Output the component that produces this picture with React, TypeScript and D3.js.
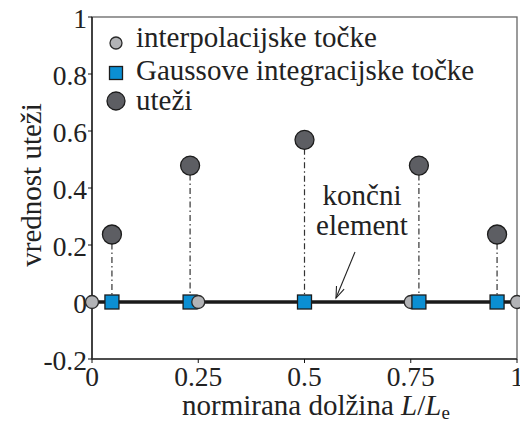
import React from "react";
import * as d3 from "d3";

const xTicks = [0, 0.25, 0.5, 0.75, 1];
const xTickLabels = ["0", "0.25", "0.5", "0.75", "1"];
const yTicks = [-0.2, 0, 0.2, 0.4, 0.6, 0.8, 1];
const yTickLabels = ["-0.2", "0", "0.2", "0.4", "0.6", "0.8", "1"];
const interpPoints = [0, 0.25, 0.75, 1];
const gaussPoints = [0.0469, 0.2308, 0.5, 0.7692, 0.9531];
const weights = [0.2369, 0.4786, 0.5689, 0.4786, 0.2369];
const legendLabels = ["interpolacijske točke", "Gaussove integracijske točke", "uteži"];

const W = 520, H = 425;
const FONT = '"Liberation Serif"';

function T(props: any) {
  const { children, size, ...rest } = props;
  return (
    <text {...rest} fill="#222" fontSize={size || 29} fontFamily={FONT} style={{ fontFamily: FONT }}>
      {children}
    </text>
  );
}

export default function App() {
  const x = d3.scaleLinear().domain([0, 1]).range([92, 517]);
  const y = d3.scaleLinear().domain([-0.2, 1]).range([359, 17]);
  const y0 = y(0);
  const sq = 14;
  const tfs = 27.5;
  const arrowStart = { x: 355, y: 252 };
  const arrowEnd = { x: 336, y: 298 };
  const ang = Math.atan2(arrowEnd.y - arrowStart.y, arrowEnd.x - arrowStart.x);
  const ah = 12, aw = 0.35;
  const head = d3.line()([
    [arrowEnd.x - ah * Math.cos(ang - aw), arrowEnd.y - ah * Math.sin(ang - aw)],
    [arrowEnd.x, arrowEnd.y],
    [arrowEnd.x - ah * Math.cos(ang + aw), arrowEnd.y - ah * Math.sin(ang + aw)],
  ]);
  return (
    <svg width={W} height={H} style={{ position: "absolute", left: 0, top: 0, background: "#fff" }}>
      <rect x={x(0)} y={y(1)} width={x(1) - x(0)} height={y(-0.2) - y(1)} fill="none" stroke="#666" strokeWidth={1.3} />
      <line x1={x(0)} x2={x(0)} y1={y(1)} y2={y(-0.2)} stroke="#111" strokeWidth={1.3} />
      <line x1={x(0)} x2={x(1)} y1={y(-0.2)} y2={y(-0.2)} stroke="#333" strokeWidth={1.3} />
      {yTicks.map((t, i) => (
        <g key={"yt" + i}>
          <line x1={x(0) - 4} x2={x(0)} y1={y(t)} y2={y(t)} stroke="#111" strokeWidth={1} />
          <T x={x(0) - 5} y={y(t) + 11} textAnchor="end" size={tfs}>{yTickLabels[i]}</T>
        </g>
      ))}
      {xTicks.map((t, i) => (
        <g key={"xt" + i}>
          <line x1={x(t)} x2={x(t)} y1={y(-0.2)} y2={y(-0.2) + 4} stroke="#111" strokeWidth={1} />
          <T x={x(t)} y={386} textAnchor="middle" size={tfs}>{xTickLabels[i]}</T>
        </g>
      ))}
      <T transform={`translate(41,${185}) rotate(-90)`} textAnchor="middle">vrednost uteži</T>
      <T x={182} y={415}>
        normirana dolžina <tspan fontStyle="italic">L</tspan>/<tspan fontStyle="italic">L</tspan>
        <tspan fontSize={19} dy={4}>e</tspan>
      </T>
      <line x1={x(0)} x2={x(1)} y1={y0} y2={y0} stroke="#1a1a1a" strokeWidth={3.5} />
      {gaussPoints.map((g, i) => (
        <line key={"st" + i} x1={x(g)} x2={x(g)} y1={y(weights[i]) + 9} y2={y0 - sq / 2} stroke="#333" strokeWidth={1.2} strokeDasharray="6,3,1.5,3" />
      ))}
      {interpPoints.filter((p) => p > 0.5).map((p, i) => (
        <circle key={"ipb" + i} cx={x(p)} cy={y0} r={6.5} fill="#b2b3b6" stroke="#2a2a2a" strokeWidth={1.3} />
      ))}
      {gaussPoints.map((g, i) => (
        <rect key={"gp" + i} x={x(g) - sq / 2} y={y0 - sq / 2} width={sq} height={sq} fill="#0b8fd3" stroke="#1c1c1c" strokeWidth={1.3} />
      ))}
      {interpPoints.filter((p) => p <= 0.5).map((p, i) => (
        <circle key={"ipa" + i} cx={x(p)} cy={y0} r={6.5} fill="#b2b3b6" stroke="#2a2a2a" strokeWidth={1.3} />
      ))}
      {gaussPoints.map((g, i) => (
        <circle key={"w" + i} cx={x(g)} cy={y(weights[i])} r={9.5} fill="#5d5e63" stroke="#1c1c1c" strokeWidth={1.3} />
      ))}
      <T x={362} y={205} textAnchor="middle">končni</T>
      <T x={362} y={235} textAnchor="middle">element</T>
      <line x1={arrowStart.x} y1={arrowStart.y} x2={arrowEnd.x} y2={arrowEnd.y} stroke="#222" strokeWidth={1.1} />
      <path d={head || ""} fill="none" stroke="#222" strokeWidth={1.1} />
      <circle cx={116} cy={43} r={6} fill="#b2b3b6" stroke="#2a2a2a" strokeWidth={1.3} />
      <T x={136} y={47}>{legendLabels[0]}</T>
      <rect x={116 - 6.5} y={73 - 6.5} width={13} height={13} fill="#0b8fd3" stroke="#1c1c1c" strokeWidth={1.3} />
      <T x={136} y={80}>{legendLabels[1]}</T>
      <circle cx={116} cy={101} r={9} fill="#5d5e63" stroke="#1c1c1c" strokeWidth={1.3} />
      <T x={136} y={110}>{legendLabels[2]}</T>
    </svg>
  );
}
